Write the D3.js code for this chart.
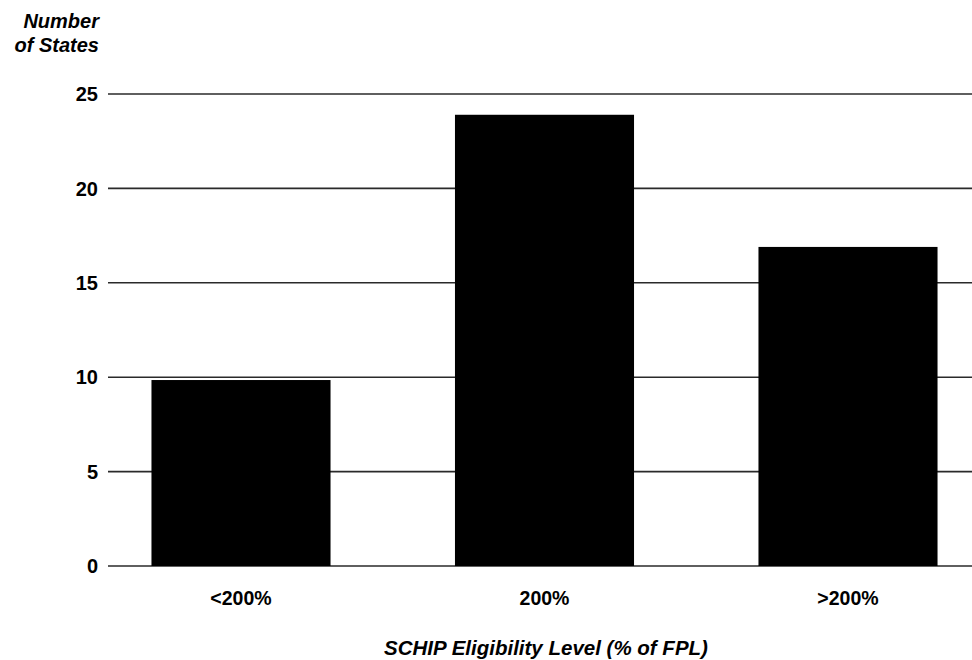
<!DOCTYPE html>
<html>
<head>
<meta charset="utf-8">
<script src="https://cdn.jsdelivr.net/npm/d3@7"></script>
<style>
  html, body { margin: 0; padding: 0; background: #fff; }
  svg { display: block; font-family: "Liberation Sans", Arial, Helvetica, sans-serif; }
</style>
</head>
<body>
<svg id="chart" width="972" height="660"></svg>
<script>
const categories = ["<200%", "200%", ">200%"];
const values = [9.85, 23.9, 16.9];
const yTicks = [0, 5, 10, 15, 20, 25];
const yTitleLines = ["Number", "of States"];
const xTitle = "SCHIP Eligibility Level (% of FPL)";

const svg = d3.select("#chart");

const y = d3.scaleLinear().domain([0, 25]).range([566, 94]);
const x = d3.scaleBand().domain(categories)
  .range([89.25, 999.75]).paddingInner(0.41).paddingOuter(0.205);

const gridLeft = 108, gridRight = 972;

// gridlines
svg.append("g").selectAll("line").data(yTicks).join("line")
  .attr("x1", gridLeft).attr("x2", gridRight)
  .attr("y1", d => y(d)).attr("y2", d => y(d))
  .attr("stroke", "#2a2a2a").attr("stroke-width", 1.6);

// tick labels
svg.append("g").selectAll("text").data(yTicks).join("text")
  .attr("x", 98).attr("y", d => y(d)).attr("dy", "0.36em")
  .attr("text-anchor", "end").attr("font-size", 20).attr("font-weight", "bold")
  .text(d => d);

// bars
svg.append("g").selectAll("rect").data(values).join("rect")
  .attr("x", (d, i) => x(categories[i]))
  .attr("width", x.bandwidth())
  .attr("y", d => y(d))
  .attr("height", d => y(0) - y(d))
  .attr("fill", "#000");

// category labels
svg.append("g").selectAll("text").data(categories).join("text")
  .attr("x", d => x(d) + x.bandwidth() / 2).attr("y", 605)
  .attr("text-anchor", "middle").attr("font-size", 19.5).attr("font-weight", "bold")
  .text(d => d);

// y title
svg.append("g").selectAll("text").data(yTitleLines).join("text")
  .attr("x", 99).attr("y", (d, i) => 28 + i * 23.5)
  .attr("text-anchor", "end").attr("font-size", 20)
  .attr("font-weight", "bold").attr("font-style", "italic")
  .text(d => d);

// x title
svg.append("text")
  .attr("x", 546).attr("y", 655)
  .attr("text-anchor", "middle").attr("font-size", 20.5)
  .attr("font-weight", "bold").attr("font-style", "italic")
  .text(xTitle);
</script>
</body>
</html>
